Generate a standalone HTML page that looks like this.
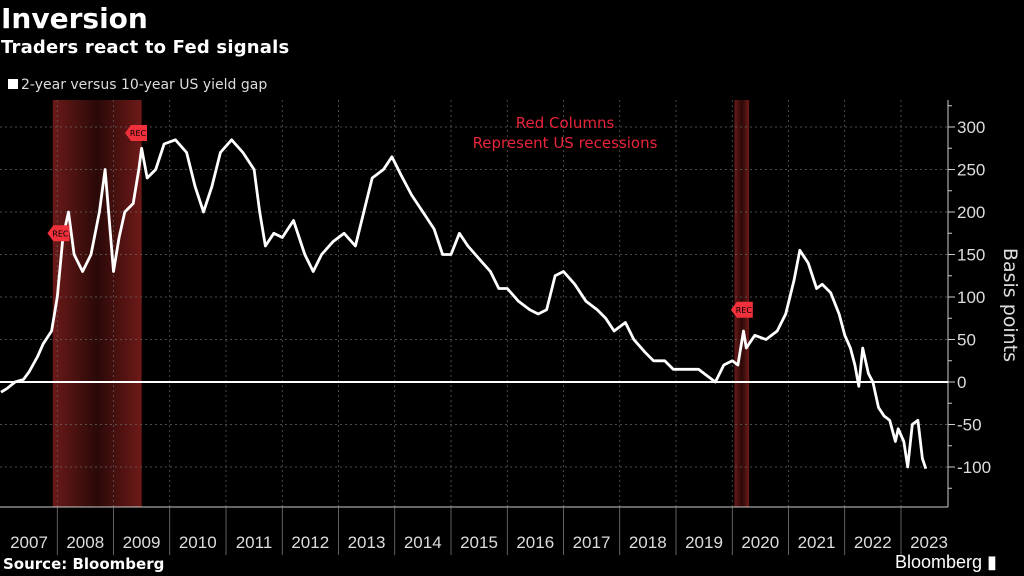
<!DOCTYPE html>
<html><head><meta charset="utf-8"><style>
html,body{margin:0;padding:0;background:#000;}
body{width:1024px;height:576px;overflow:hidden;position:relative;font-family:"DejaVu Sans","Liberation Sans",sans-serif;color:#fff;}
.t{position:absolute;white-space:nowrap;}
</style></head><body>
<div class="t" style="left:1px;top:2px;font-size:28px;font-weight:bold;">Inversion</div>
<div class="t" style="left:1px;top:37px;font-size:18px;font-weight:bold;letter-spacing:0.2px;">Traders react to Fed signals</div>
<div class="t" style="left:8px;top:77px;font-size:14px;color:#ddd;"><span style="display:inline-block;width:10px;height:10px;background:#fff;margin-right:3px;"></span>2-year versus 10-year US yield gap</div>
<div class="t" style="left:3px;top:555px;font-size:15px;font-weight:bold;">Source: Bloomberg</div>
<div class="t" style="left:895px;top:552px;font-size:18px;font-family:'Liberation Sans Narrow','Liberation Sans',sans-serif;">Bloomberg ▮</div>
<svg id="chart" width="1024" height="576" style="position:absolute;left:0;top:0"></svg>
<script>
const years=[2007,2008,2009,2010,2011,2012,2013,2014,2015,2016,2017,2018,2019,2020,2021,2022,2023];
const yTicks=[300,250,200,150,100,50,0,-50,-100];
const recessions=[[2007.92,2009.5],[2020.04,2020.3]];
const recMarks=[[2008.02,175],[2009.4,293],[2020.17,85]];
const dates=[2007.0,2007.1,2007.25,2007.4,2007.5,2007.65,2007.75,2007.9,2008.0,2008.1,2008.2,2008.3,2008.45,2008.6,2008.75,2008.85,2008.95,2009.0,2009.1,2009.2,2009.35,2009.45,2009.5,2009.6,2009.75,2009.9,2010.1,2010.3,2010.45,2010.6,2010.75,2010.9,2011.1,2011.3,2011.5,2011.6,2011.7,2011.85,2012.0,2012.2,2012.4,2012.55,2012.7,2012.9,2013.1,2013.3,2013.45,2013.6,2013.8,2013.95,2014.1,2014.3,2014.5,2014.7,2014.85,2015.0,2015.15,2015.3,2015.5,2015.7,2015.85,2016.0,2016.2,2016.4,2016.55,2016.7,2016.85,2017.0,2017.2,2017.4,2017.6,2017.75,2017.9,2018.1,2018.25,2018.45,2018.6,2018.8,2018.95,2019.2,2019.4,2019.6,2019.7,2019.85,2020.0,2020.1,2020.2,2020.25,2020.4,2020.6,2020.8,2020.95,2021.1,2021.2,2021.35,2021.5,2021.6,2021.75,2021.9,2022.0,2022.1,2022.18,2022.25,2022.32,2022.42,2022.5,2022.6,2022.7,2022.8,2022.9,2022.95,2023.05,2023.12,2023.2,2023.3,2023.38,2023.44];
const values=[-12,-8,0,3,12,30,45,60,100,170,200,150,130,150,200,250,170,130,170,200,210,250,275,240,250,280,285,270,230,200,230,270,285,270,250,200,160,175,170,190,150,130,150,165,175,160,200,240,250,265,245,220,200,180,150,150,175,160,145,130,110,110,95,85,80,85,125,130,115,95,85,75,60,70,50,35,25,25,15,15,15,5,0,20,25,20,60,40,55,50,60,80,120,155,140,110,115,105,80,55,40,20,-5,40,10,0,-30,-40,-45,-70,-55,-70,-100,-50,-45,-90,-102];
const NS="http://www.w3.org/2000/svg";
const svg=document.getElementById('chart');
const X=y=>1+(y-2007)*56.25;
const Y=v=>382-v*0.85;
function mk(t,a,p){const e=document.createElementNS(NS,t);for(const k in a)e.setAttribute(k,a[k]);(p||svg).appendChild(e);return e;}
const defs=mk('defs',{});
const g=mk('linearGradient',{id:'rg',x1:0,x2:1,y1:0,y2:0},defs);
mk('stop',{offset:'0','stop-color':'#6a1a18'},g);mk('stop',{offset:'0.5','stop-color':'#2a0908'},g);mk('stop',{offset:'1','stop-color':'#6e1a18'},g);
recessions.forEach(r=>{const e=mk('rect',{x:X(r[0]),y:100,width:X(r[1])-X(r[0]),height:407,fill:'url(#rg)'});

});
yTicks.forEach(v=>{const e=mk('line',{x1:0,x2:948,y1:Y(v),y2:Y(v),stroke:'#666','stroke-dasharray':'2,3','stroke-width':0.7});

});
years.slice(1).forEach(yr=>{const e=mk('line',{x1:X(yr),x2:X(yr),y1:100,y2:507,stroke:'#666','stroke-dasharray':'2,3','stroke-width':0.7});

});
mk('line',{x1:948,x2:948,y1:100,y2:507,stroke:'#ccc','stroke-width':1});
mk('line',{x1:0,x2:948,y1:507,y2:507,stroke:'#ccc','stroke-width':1});
for(let v=-125;v<=325;v+=25){mk('line',{x1:948,x2:v%50===0?955:952,y1:Y(v),y2:Y(v),stroke:'#ccc'});}
yTicks.forEach(v=>{const t=mk('text',{x:957,y:Y(v)+6,fill:'#ddd','font-size':17,'font-family':'Liberation Sans Narrow, Liberation Sans, sans-serif'});t.textContent=v;

});
years.forEach((yr,i)=>{if(i>0)mk('line',{x1:X(yr),x2:X(yr),y1:507,y2:555,stroke:'#888','stroke-width':0.7});
const t=mk('text',{x:X(yr)+28,y:548,fill:'#ddd','font-size':17,'text-anchor':'middle','font-family':'Liberation Sans Narrow, Liberation Sans, sans-serif'});t.textContent=yr;

});
const yt=mk('text',{x:0,y:0,fill:'#ddd','font-size':19,'text-anchor':'middle',transform:'translate(1004,305) rotate(90)'});yt.textContent='Basis points';


mk('line',{x1:0,x2:948,y1:Y(0),y2:Y(0),stroke:'#fff','stroke-width':2});
const note=mk('text',{x:565,y:128,fill:'#e8243a','font-size':15,'text-anchor':'middle'});


mk('tspan',{x:565,dy:0},note).textContent='Red Columns';
mk('tspan',{x:565,dy:20},note).textContent='Represent US recessions';
let d='';dates.forEach((t,i)=>{d+=(i?'L':'M')+X(t).toFixed(1)+','+Y(values[i]).toFixed(1);});
const line=mk('path',{d:d,fill:'none',stroke:'#fff','stroke-width':2.8,'stroke-linejoin':'round'});


recMarks.forEach(m=>{const x=X(m[0]),y=Y(m[1]);
const p=mk('polygon',{points:`${x-11},${y} ${x-5},${y-8} ${x+11},${y-8} ${x+11},${y+8} ${x-5},${y+8}`,fill:'#f0303a'});


const t=mk('text',{x:x+2,y:y+3,fill:'#000','font-size':8,'text-anchor':'middle'});t.textContent='REC';});
</script>
</body></html>
